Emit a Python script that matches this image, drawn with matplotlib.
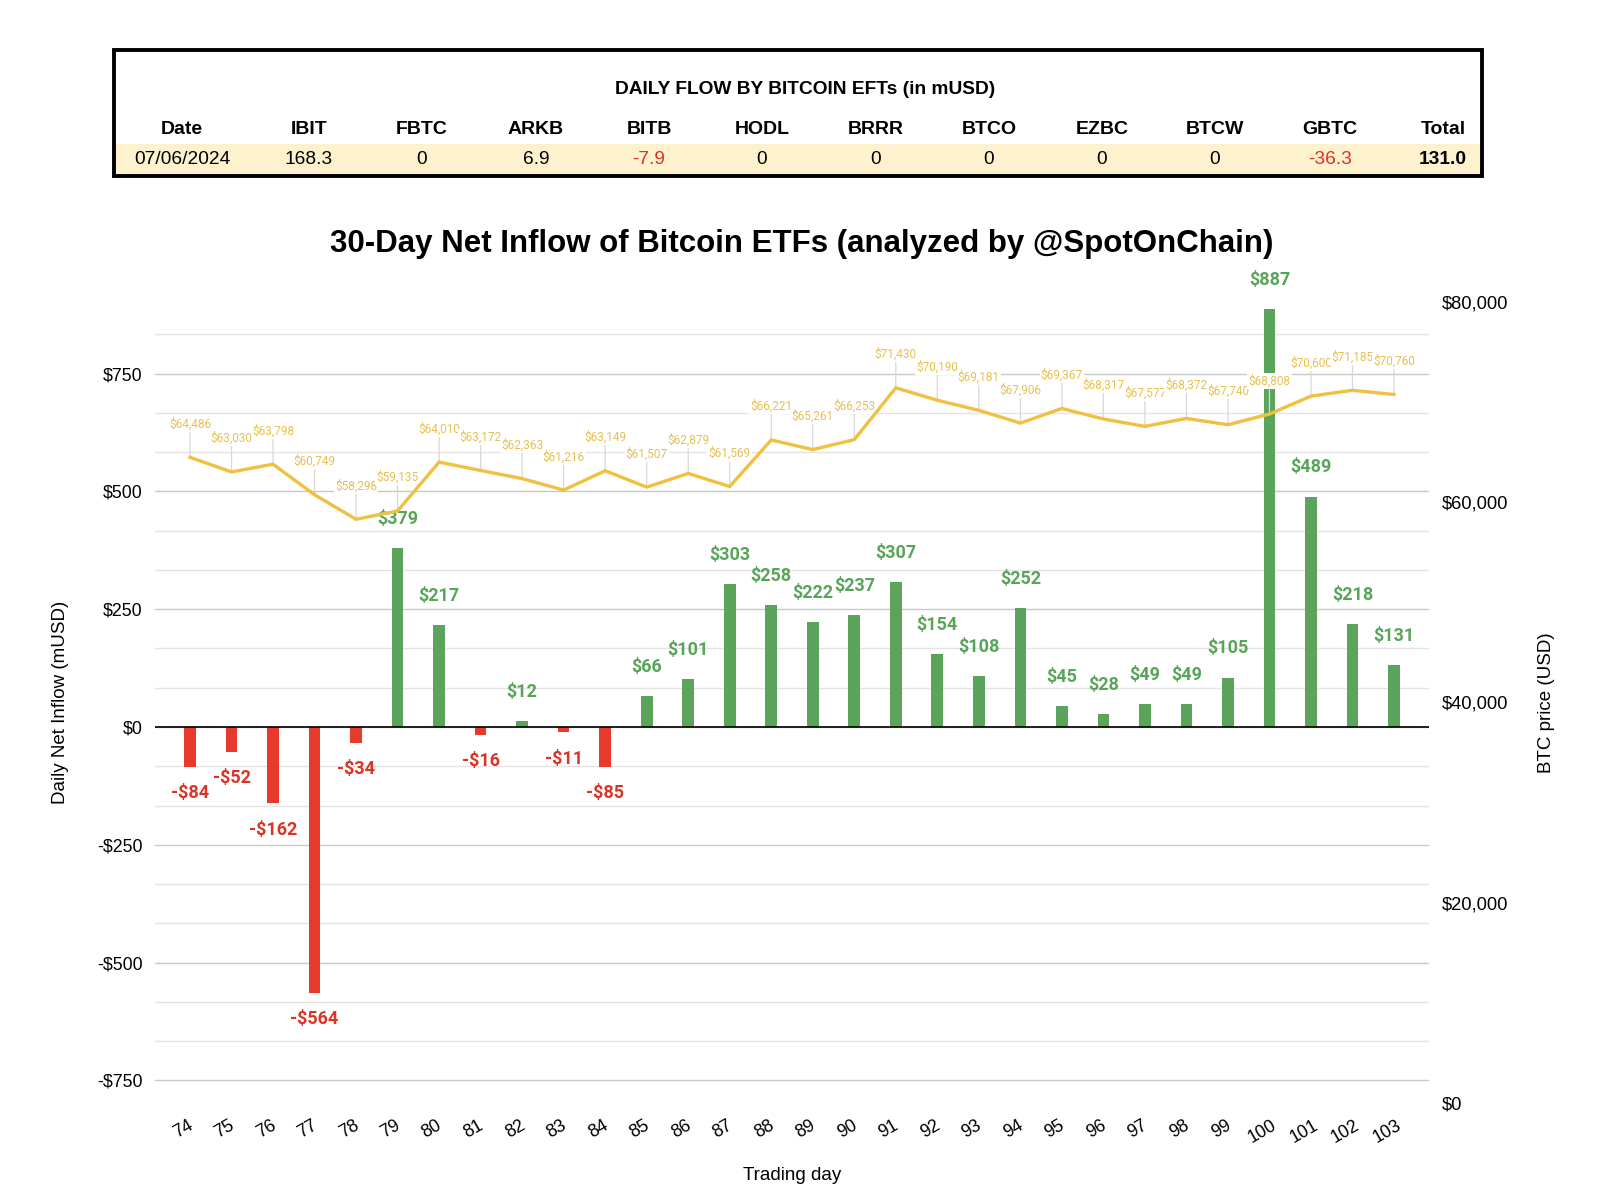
import matplotlib
matplotlib.use("Agg")
import matplotlib.pyplot as plt
from matplotlib.ticker import MultipleLocator, FuncFormatter
from matplotlib.patches import Rectangle
from matplotlib.transforms import ScaledTranslation

# ---------------- data ----------------
days = list(range(74, 104))
net_flow = [-84, -52, -162, -564, -34, 379, 217, -16, 12, -11, -85, 66, 101, 303, 258,
            222, 237, 307, 154, 108, 252, 45, 28, 49, 49, 105, 887, 489, 218, 131]
btc_price = [64486, 63030, 63798, 60749, 58298, 59135, 64010, 63172, 62363, 61216,
             63149, 61507, 62879, 61569, 66221, 65261, 66253, 71430, 70190, 69181,
             67906, 69367, 68317, 67577, 68372, 67740, 68808, 70600, 71185, 70760]

table_title = "DAILY FLOW BY BITCOIN EFTs (in mUSD)"
table_cols = ["Date", "IBIT", "FBTC", "ARKB", "BITB", "HODL", "BRRR", "BTCO", "EZBC",
              "BTCW", "GBTC", "Total"]
table_vals = ["07/06/2024", "168.3", "0", "6.9", "-7.9", "0", "0", "0", "0", "0",
              "-36.3", "131.0"]

left_ticks = [-750, -500, -250, 0, 250, 500, 750]
right_ticks = [0, 20000, 40000, 60000, 80000]

# ---------------- style ----------------
GREEN = "#5AA55B"
RED = "#E63A2C"
GREEN_T = "#58A55A"
RED_T = "#DB3326"
GOLD = "#F0C040"
GOLD_T = "#E6C050"
SANS = ["Liberation Sans", "DejaVu Sans"]
ROBO = ["Roboto", "DejaVu Sans"]
plt.rcParams["font.family"] = SANS

W, H = 1600, 1192
fig = plt.figure(figsize=(W / 100, H / 100), dpi=100)

# ---------------- table (pixel coordinate overlay) ----------------
tab = fig.add_axes([0, 0, 1, 1])
tab.set_xlim(0, W)
tab.set_ylim(H, 0)
tab.axis("off")
tab.add_patch(Rectangle((116, 144), 1364, 30, facecolor="#FDF1CE", edgecolor="none"))
tab.add_patch(Rectangle((114, 50), 1368, 126, facecolor="none", edgecolor="black", lw=2.8))
tab.text(805, 89, table_title, ha="center", va="center", fontsize=13.8, fontweight="bold")
col_x = [182, 309, 422, 536, 649, 762, 876, 989, 1102, 1215, 1330, 1443]
for i, (c, v) in enumerate(zip(table_cols, table_vals)):
    tab.text(col_x[i], 129, c, ha="center", va="center", fontsize=14, fontweight="bold")
    color = RED_T if v.startswith("-") else "black"
    weight = "bold" if c == "Total" else "normal"
    tab.text(col_x[i], 159, v, ha="center", va="center", fontsize=13.8, color=color,
             fontweight=weight)

# ---------------- main chart ----------------
ax_l, ax_r, ax_t, ax_b = 155, 1429, 302, 1103
ax = fig.add_axes([ax_l / W, 1 - ax_b / H, (ax_r - ax_l) / W, (ax_b - ax_t) / H])
ax.set_zorder(2)
ax.patch.set_visible(False)

colors = [GREEN if v >= 0 else RED for v in net_flow]
ax.bar(days, net_flow, width=0.28, color=colors, zorder=3)
ax.set_xlim(73.157, 103.843)
ax.set_ylim(-798, 902)
ax.set_yticks(left_ticks)
ax.yaxis.set_minor_locator(MultipleLocator(250 / 3))
ax.yaxis.set_major_formatter(FuncFormatter(
    lambda v, p: ("-$%d" % abs(v)) if v < 0 else "$%d" % v))
ax.grid(axis="y", which="major", color="#C8C8C8", lw=1.0, zorder=0)
ax.grid(axis="y", which="minor", color="#E4E4E4", lw=1.0, zorder=0)
ax.axhline(0, color="black", lw=1.2, zorder=4)
for s in ax.spines.values():
    s.set_visible(False)
ax.tick_params(axis="y", which="both", length=0, labelsize=12.8, pad=9)
ax.tick_params(axis="x", length=0, labelsize=12.8, pad=10)
ax.set_xticks(days)
ax.set_xticklabels([str(d) for d in days], rotation=30, ha="center")
shift = ScaledTranslation(-7 / 100, 0, fig.dpi_scale_trans)
for lbl in ax.get_xticklabels():
    lbl.set_transform(lbl.get_transform() + shift)
ax.set_xlabel("Trading day", fontsize=13.5, labelpad=15)
ax.set_ylabel("Daily Net Inflow (mUSD)", fontsize=13.5, labelpad=20)

for d, v in zip(days, net_flow):
    if v >= 0:
        ax.annotate("$%d" % v, (d, v), xytext=(0, 21), textcoords="offset points",
                    ha="center", va="center", fontsize=13, fontweight="bold",
                    color=GREEN_T, family=ROBO, zorder=6)
    else:
        ax.annotate("-$%d" % abs(v), (d, v), xytext=(0, -19), textcoords="offset points",
                    ha="center", va="center", fontsize=13, fontweight="bold",
                    color=RED_T, family=ROBO, zorder=6)

# price axis
ax2 = fig.add_axes(ax.get_position(), sharex=ax)
ax2.set_zorder(3)
ax2.patch.set_visible(False)
ax2.plot(days, btc_price, color=GOLD, lw=2.4, zorder=5, solid_joinstyle="miter")
ax2.set_ylim(0, 80000)
ax2.set_yticks(right_ticks)
ax2.yaxis.tick_right()
ax2.yaxis.set_label_position("right")
ax2.yaxis.set_major_formatter(FuncFormatter(lambda v, p: "${:,.0f}".format(v)))
ax2.tick_params(axis="y", length=0, labelsize=13.2, pad=9)
ax2.tick_params(axis="x", bottom=False, labelbottom=False)
for s in ax2.spines.values():
    s.set_visible(False)
ax2.set_ylabel("BTC price (USD)", fontsize=13.5, labelpad=22)
for d, p in zip(days, btc_price):
    ax2.annotate("${:,}".format(p), (d, p), xytext=(0, 24), textcoords="offset points",
                 ha="center", va="center", fontsize=8.5, color=GOLD_T, family=ROBO,
                 bbox=dict(boxstyle="square,pad=0.1", facecolor="white", edgecolor="none"),
                 arrowprops=dict(arrowstyle="-", color="#D8D8D8", lw=0.9,
                                 shrinkA=0, shrinkB=0),
                 zorder=4)

fig.text(802 / W, 1 - 244 / H, "30-Day Net Inflow of Bitcoin ETFs (analyzed by @SpotOnChain)",
         ha="center", va="center", fontsize=22.5, fontweight="bold")

fig.savefig("out.png", dpi=100, facecolor="white")
